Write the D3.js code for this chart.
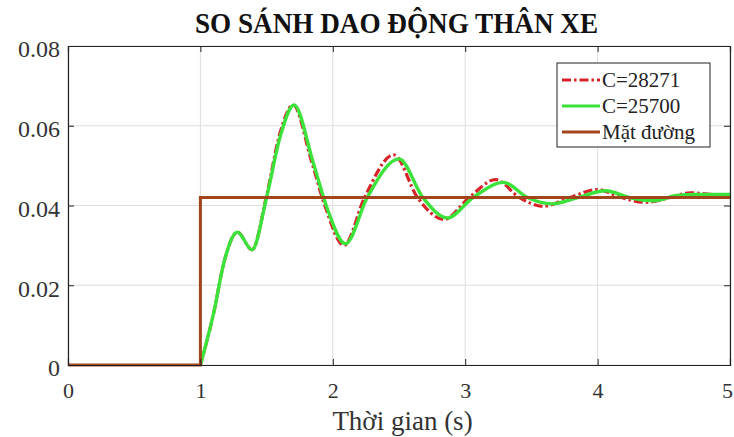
<!DOCTYPE html>
<html>
<head>
<meta charset="utf-8">
<script src="https://cdn.jsdelivr.net/npm/d3@7"></script>
<style>
  body { margin: 0; background: #fff; }
</style>
</head>
<body>
<svg id="chart" width="734" height="437"></svg>
<script>
const xTicks = [0, 1, 2, 3, 4, 5];
const yTicks = [0, 0.02, 0.04, 0.06, 0.08];

// C=28271
const tRed = [1.0, 1.1, 1.18, 1.28, 1.39, 1.5, 1.6, 1.70, 1.84, 1.94, 2.084, 2.24, 2.46, 2.64, 2.84, 3.03, 3.23, 3.41, 3.59, 3.79, 3.995, 4.18, 4.36, 4.55, 4.70, 4.85, 5.0];
const yRed = [0, 0.013, 0.026, 0.0333, 0.0289, 0.0425, 0.058, 0.0652, 0.051, 0.040, 0.0300, 0.042, 0.0527, 0.042, 0.0365, 0.042, 0.0465, 0.042, 0.0398, 0.042, 0.044, 0.042, 0.0408, 0.042, 0.0432, 0.0428, 0.0425];

// C=25700
const tGreen = [1.0, 1.1, 1.18, 1.28, 1.39, 1.5, 1.6, 1.707, 1.85, 1.95, 2.096, 2.26, 2.5, 2.68, 2.864, 3.06, 3.29, 3.47, 3.655, 3.85, 4.06, 4.24, 4.42, 4.6, 4.75, 5.0];
const yGreen = [0, 0.013, 0.026, 0.0333, 0.0289, 0.042, 0.057, 0.0652, 0.051, 0.040, 0.0304, 0.042, 0.0517, 0.042, 0.0369, 0.042, 0.0458, 0.042, 0.0404, 0.042, 0.0437, 0.042, 0.0412, 0.0425, 0.0428, 0.0428];

// Mặt đường (step)
const tRoad = [0, 1, 1, 5];
const yRoad = [0, 0, 0.042, 0.042];

const width = 734;
const height = 437;
const margin = { top: 46, right: 4, bottom: 72, left: 68 };
const serif = "'Liberation Serif', 'Times New Roman', serif";

const svg = d3.select("#chart");

const x = d3.scaleLinear().domain([0, 5]).range([margin.left, width - margin.right]);
const y = d3.scaleLinear().domain([0, 0.08]).range([height - margin.bottom, margin.top]);

// grid
svg.append("g")
  .selectAll("line")
  .data(xTicks)
  .join("line")
  .attr("x1", (d) => x(d)).attr("x2", (d) => x(d))
  .attr("y1", y(0)).attr("y2", y(0.08))
  .attr("stroke", "#dedede").attr("stroke-width", 1);

svg.append("g")
  .selectAll("line")
  .data(yTicks)
  .join("line")
  .attr("x1", x(0)).attr("x2", x(5))
  .attr("y1", (d) => y(d)).attr("y2", (d) => y(d))
  .attr("stroke", "#dedede").attr("stroke-width", 1);

const toPts = (ts, ys) => ts.map((t, i) => [t, ys[i]]);

const line = d3.line()
  .x((d) => x(d[0]))
  .y((d) => y(d[1]))
  .curve(d3.curveMonotoneX);

svg.append("clipPath").attr("id", "plotclip")
  .append("rect")
  .attr("x", x(0)).attr("y", y(0.08) - 2)
  .attr("width", x(5) - x(0)).attr("height", y(0) - y(0.08) + 4);

const plot = svg.append("g").attr("clip-path", "url(#plotclip)");

plot.append("path")
  .attr("d", line(toPts(tRed, yRed)))
  .attr("fill", "none")
  .attr("stroke", "#d9232a")
  .attr("stroke-width", 3.2)
  .attr("stroke-dasharray", "9,3,2.5,3");

plot.append("path")
  .attr("d", line(toPts(tGreen, yGreen)))
  .attr("fill", "none")
  .attr("stroke", "#3ae23a")
  .attr("stroke-width", 3.4);

plot.append("path")
  .attr("d", d3.line().x((d) => x(d[0])).y((d) => y(d[1]))(toPts(tRoad, yRoad)))
  .attr("fill", "none")
  .attr("stroke", "#a2441c")
  .attr("stroke-width", 3);

// axes
const xAxis = d3.axisBottom(x).tickValues(xTicks).tickSize(-6).tickPadding(17).tickFormat(d3.format("d"));
const yAxis = d3.axisLeft(y).tickValues(yTicks).tickSize(-6).tickPadding(8)
  .tickFormat((d) => (d === 0 ? "0" : d3.format(".2f")(d)));

const gx = svg.append("g").attr("transform", `translate(0,${y(0)})`).call(xAxis);
const gy = svg.append("g").attr("transform", `translate(${x(0)},0)`).call(yAxis);

// top/right ticks
svg.append("g").attr("transform", `translate(0,${y(0.08)})`)
  .call(d3.axisTop(x).tickValues(xTicks).tickSize(-6).tickFormat(""));
svg.append("g").attr("transform", `translate(${x(5)},0)`)
  .call(d3.axisRight(y).tickValues(yTicks).tickSize(-6).tickFormat(""));

svg.selectAll(".domain").attr("stroke", "#222").attr("stroke-width", 1.2);
svg.selectAll(".tick line").attr("stroke", "#222");
gx.attr("font-family", serif).selectAll("text")
  .attr("font-size", 22)
  .attr("fill", "#333");
gy.attr("font-family", serif).selectAll("text")
  .attr("font-size", 24)
  .attr("dy", "0.45em")
  .attr("fill", "#333");
gx.selectAll(".tick text").filter((d) => d === 5).attr("dx", -3);

// title
svg.append("text")
  .attr("x", 396.5)
  .attr("y", 33)
  .attr("text-anchor", "middle")
  .attr("font-family", serif)
  .attr("font-size", 29)
  .attr("font-weight", "bold")
  .attr("textLength", 403)
  .attr("lengthAdjust", "spacingAndGlyphs")
  .attr("fill", "#111")
  .text("SO SÁNH DAO ĐỘNG THÂN XE");

// x label
svg.append("text")
  .attr("x", 402.5)
  .attr("y", 430)
  .attr("text-anchor", "middle")
  .attr("font-family", serif)
  .attr("font-size", 27)
  .attr("fill", "#333")
  .text("Thời gian (s)");

// legend
const legendNames = ["C=28271", "C=25700", "Mặt đường"];
const legendColors = ["#d9232a", "#3ae23a", "#a2441c"];
const legendDash = ["9,3,2.5,3", null, null];

const lg = svg.append("g").attr("transform", "translate(557,63)");
lg.append("rect")
  .attr("width", 153).attr("height", 84)
  .attr("fill", "#fff").attr("stroke", "#222").attr("stroke-width", 1);

const items = lg.selectAll("g")
  .data(legendNames)
  .join("g")
  .attr("transform", (d, i) => `translate(0,${17 + i * 26})`);

items.append("line")
  .attr("x1", 5).attr("x2", 43)
  .attr("stroke", (d, i) => legendColors[i])
  .attr("stroke-width", 3.2)
  .attr("stroke-dasharray", (d, i) => legendDash[i]);

items.append("text")
  .attr("x", 45)
  .attr("y", 7)
  .attr("font-family", serif)
  .attr("font-size", 21)
  .attr("fill", "#222")
  .text((d) => d);
</script>
</body>
</html>
